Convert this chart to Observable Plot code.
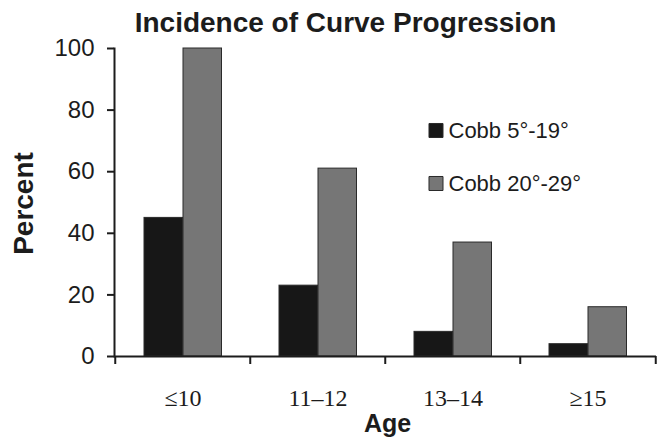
<!DOCTYPE html>
<html>
<head>
<meta charset="utf-8">
<script src="https://cdn.jsdelivr.net/npm/d3@7"></script>
<script src="https://cdn.jsdelivr.net/npm/@observablehq/plot@0.6"></script>
<style>
  html, body { margin: 0; padding: 0; background: #fff; }
</style>
</head>
<body>
<div id="chart"></div>
<script>
const title = "Incidence of Curve Progression";
const ages = ["≤10", "11–12", "13–14", "≥15"];
const series = ["Cobb 5°-19°", "Cobb 20°-29°"];
const cobb5to19 = [45, 23, 8, 4];
const cobb20to29 = [100, 61, 37, 16];
const yTicks = [0, 20, 40, 60, 80, 100];
const colors = ["#171717", "#767676"];

const data = ages.flatMap((age, i) => [
  {age, series: series[0], value: cobb5to19[i]},
  {age, series: series[1], value: cobb20to29[i]}
]);

const W = 662, H = 442, ML = 114, MR = 6, MT = 48, MB = 86;
const step = (W - ML - MR) / ages.length;   // width of one age group
const gap = 29;                              // empty space before first bar of a group
const barW = 39;                             // width of one bar
const ink = "#1c1c1c";
const sans = "'Liberation Sans', Arial, Helvetica, sans-serif";
const serif = "'Liberation Serif', 'Times New Roman', serif";

const chart = Plot.plot({
  width: W, height: H,
  marginLeft: ML, marginRight: MR, marginTop: MT, marginBottom: MB,
  style: {background: "#fff", fontFamily: sans, color: ink},
  x: {domain: ages, padding: 0, axis: null},
  y: {domain: [0, 100], axis: null},
  color: {domain: series, range: colors},
  marks: [
    ...series.map((s, i) => Plot.barY(data, {
      filter: d => d.series === s, x: "age", y: "value", fill: "series",
      stroke: "#2a2a2a", strokeWidth: 1,
      insetLeft: gap + barW * i, insetRight: step - gap - barW * (i + 1)
    })),
    Plot.ruleY([0], {stroke: ink, strokeWidth: 2}),
    Plot.frame({anchor: "left", stroke: ink, strokeWidth: 2}),
    Plot.axisY({ticks: yTicks, tickSize: 7, tickPadding: 13, fontSize: 24, label: null, strokeWidth: 2, stroke: ink}),
    Plot.axisX({anchor: "bottom", tickSize: 0, tickPadding: 32, fontSize: 24, fontFamily: serif, label: null}),
    Plot.axisX({anchor: "bottom", tickSize: 8, fill: "none", label: null, strokeWidth: 2, stroke: ink, dx: -step / 2}),
    Plot.axisX({anchor: "bottom", ticks: [ages[ages.length - 1]], tickSize: 8, fill: "none", label: null, strokeWidth: 2, stroke: ink, dx: step / 2}),
    Plot.text([title], {frameAnchor: "top", textAnchor: "middle", lineAnchor: "middle", dx: -40, dy: -25, fontSize: 28, fontWeight: "bold", fill: ink}),
    Plot.text(["Percent"], {frameAnchor: "left", textAnchor: "middle", lineAnchor: "middle", rotate: -90, dx: -90, dy: 1, fontSize: 28, fontWeight: "bold", fill: ink}),
    Plot.text(["Age"], {frameAnchor: "bottom", textAnchor: "middle", lineAnchor: "middle", dx: 2, dy: 67, fontSize: 25, fontWeight: "bold", fill: ink}),
    ...series.map((s, i) => Plot.dot([s], {frameAnchor: "top-left", dx: 321.5, dy: 82 + 53 * i, symbol: "square", r: 7.9, fill: d => d, stroke: "#2a2a2a", strokeWidth: 1})),
    ...series.map((s, i) => Plot.text([s], {frameAnchor: "top-left", textAnchor: "start", lineAnchor: "middle", dx: 334, dy: 82 + 53 * i, fontSize: 22, fill: ink}))
  ]
});
document.getElementById("chart").appendChild(chart);
</script>
</body>
</html>
